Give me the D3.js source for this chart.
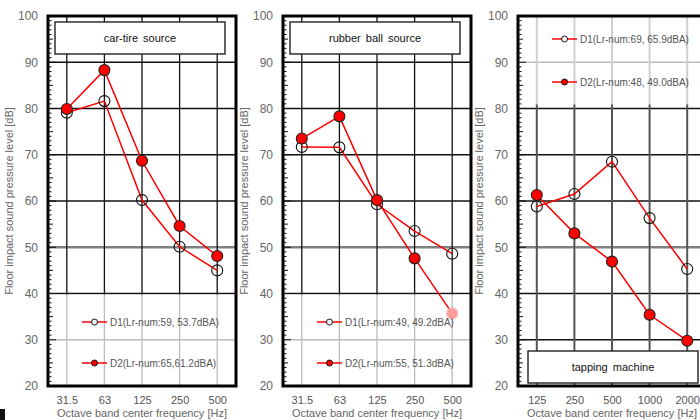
<!DOCTYPE html>
<html>
<head>
<meta charset="utf-8">
<script src="https://cdn.jsdelivr.net/npm/d3@7"></script>
<style>
  body { margin: 0; background: #fff; }
  text { font-family: "Liberation Sans", Arial, sans-serif; }
</style>
</head>
<body>
<div id="chart"></div>
<script>
// frequency bands
var freqLow = ["31.5", "63", "125", "250", "500"];
var freqHigh = ["125", "250", "500", "1000", "2000"];

// y ticks
var yTicks = [20, 30, 40, 50, 60, 70, 80, 90, 100];

// car-tire source
var carD1 = [79.1, 81.6, 60.2, 50.1, 45.0];
var carD2 = [79.9, 88.3, 68.7, 54.6, 48.1];
// rubber ball source
var ballD1 = [71.7, 71.6, 59.3, 53.5, 48.6];
var ballD2 = [73.5, 78.3, 60.2, 47.6, 35.7];
// tapping machine
var tapD1 = [58.8, 61.5, 68.5, 56.3, 45.3];
var tapD2 = [61.3, 53.0, 46.9, 35.4, 29.8];

var titles = ["car-tire source", "rubber ball source", "tapping machine"];
var legendD1 = ["D1(Lr-num:59, 53.7dBA)", "D1(Lr-num:49, 49.2dBA)", "D1(Lr-num:69, 65.9dBA)"];
var legendD2 = ["D2(Lr-num:65,61.2dBA)", "D2(Lr-num:55, 51.3dBA)", "D2(Lr-num:48, 49.0dBA)"];

var svgWidth = 700;
var svgHeight = 420;

var svg = d3.select("#chart")
  .append("svg")
  .attr("width", svgWidth)
  .attr("height", svgHeight);

var plotTop = 16, plotBottom = 386, plotW = 188;

var panels = [
  { left: 48, freqs: freqLow, d1: carD1, d2: carD2, legendTop: false, titleTop: true, boxDx: 7, faded: -1, vGrid: "#111", vW: 1.3 },
  { left: 283, freqs: freqLow, d1: ballD1, d2: ballD2, legendTop: false, titleTop: true, boxDx: 7, faded: 4, vGrid: "#111", vW: 1.3 },
  { left: 518, freqs: freqHigh, d1: tapD1, d2: tapD2, legendTop: true, titleTop: false, boxDx: 10, faded: -1, vGrid: "#555", vW: 2 }
];

var yScale = d3.scaleLinear().domain([20, 100]).range([plotBottom, plotTop]);

panels.forEach(function(p, i) {
  var g = svg.append("g");
  var xScale = d3.scalePoint()
    .domain(p.freqs)
    .range([p.left, p.left + plotW])
    .padding(0.5);

  // gridlines
  g.selectAll("line.hgrid")
    .data(yTicks.slice(1, -1))
    .enter()
    .append("line")
    .attr("x1", p.left)
    .attr("x2", p.left + plotW)
    .attr("y1", d => yScale(d))
    .attr("y2", d => yScale(d))
    .attr("stroke", d => d === 50 ? "#808080" : "#111")
    .attr("stroke-width", d => d === 50 ? 2.5 : 1.3);

  g.selectAll("line.vgrid")
    .data(p.freqs)
    .enter()
    .append("line")
    .attr("x1", d => xScale(d))
    .attr("x2", d => xScale(d))
    .attr("y1", plotTop)
    .attr("y2", plotBottom)
    .attr("stroke", p.vGrid)
    .attr("stroke-width", p.vW);

  // legend area washes out the grid
  var legY1 = p.legendTop ? plotTop : yScale(40) + 1;
  var legY2 = p.legendTop ? yScale(80) - 4 : plotBottom;
  g.append("rect")
    .attr("x", p.left + 1)
    .attr("y", legY1)
    .attr("width", plotW - 2)
    .attr("height", legY2 - legY1)
    .attr("fill", "#fff")
    .attr("opacity", 0.72);

  // title box
  var boxY = p.titleTop ? 22 : 351;
  g.append("rect")
    .attr("x", p.left + p.boxDx)
    .attr("y", boxY)
    .attr("width", 170)
    .attr("height", 32)
    .attr("fill", "#fff")
    .attr("stroke", "#222")
    .attr("stroke-width", 1.4);
  g.append("text")
    .attr("x", p.left + p.boxDx + 85)
    .attr("y", boxY + 20)
    .attr("text-anchor", "middle")
    .style("font-size", "11px")
    .style("word-spacing", "2px")
    .attr("fill", "#111")
    .text(titles[i]);

  // lines
  var line = d3.line()
    .x((d, j) => xScale(p.freqs[j]))
    .y(d => yScale(d));

  [p.d1, p.d2].forEach(function(series) {
    g.append("path")
      .datum(series)
      .attr("d", line)
      .attr("fill", "none")
      .attr("stroke", "#ff0000")
      .attr("stroke-width", 1.5);
  });

  // markers
  g.selectAll("circle.d1")
    .data(p.d1)
    .enter()
    .append("circle")
    .attr("cx", (d, j) => xScale(p.freqs[j]))
    .attr("cy", d => yScale(d))
    .attr("r", 5.5)
    .attr("fill", "none")
    .attr("stroke", "#111")
    .attr("stroke-width", 1.1);

  g.selectAll("circle.d2")
    .data(p.d2)
    .enter()
    .append("circle")
    .attr("cx", (d, j) => xScale(p.freqs[j]))
    .attr("cy", d => yScale(d))
    .attr("r", 5.5)
    .attr("fill", (d, j) => j === p.faded ? "#ff9c9c" : "#ff0000")
    .attr("stroke", (d, j) => j === p.faded ? "#ffb0b0" : "#222")
    .attr("stroke-width", 1.1);

  // frame
  g.append("rect")
    .attr("x", p.left)
    .attr("y", plotTop)
    .attr("width", plotW)
    .attr("height", plotBottom - plotTop)
    .attr("fill", "none")
    .attr("stroke", "#000")
    .attr("stroke-width", 3);

  // minor ticks inside the left frame
  g.selectAll("line.minor")
    .data(d3.range(21, 100))
    .enter()
    .append("line")
    .attr("x1", p.left)
    .attr("x2", d => p.left + (d % 10 === 0 ? 8 : (d % 5 === 0 ? 5 : 3.5)))
    .attr("y1", d => yScale(d))
    .attr("y2", d => yScale(d))
    .attr("stroke", "#111")
    .attr("stroke-width", 1);

  // y axis
  var leftAxis = d3.axisLeft(yScale).tickValues(yTicks).tickSize(0).tickPadding(10);
  var yAx = g.append("g")
    .attr("transform", `translate(${p.left}, 0)`)
    .call(leftAxis);
  yAx.select(".domain").remove();
  yAx.selectAll("text")
    .style("font-size", "12px")
    .style("font-family", "Liberation Sans, Arial, sans-serif")
    .attr("fill", "#666");

  // x axis
  var bottomAxis = d3.axisBottom(xScale).tickSize(0).tickPadding(10);
  var xAx = g.append("g")
    .attr("transform", `translate(0, ${plotBottom})`)
    .call(bottomAxis);
  xAx.select(".domain").remove();
  xAx.selectAll("text")
    .style("font-size", "11px")
    .style("font-family", "Liberation Sans, Arial, sans-serif")
    .attr("fill", "#555");

  // axis titles
  g.append("text")
    .attr("x", p.left + plotW / 2)
    .attr("y", 417)
    .attr("text-anchor", "middle")
    .style("font-size", "11px")
    .attr("fill", "#666")
    .text("Octave band center frequency [Hz]");

  g.append("text")
    .attr("transform", `translate(${p.left - 35}, ${(plotTop + plotBottom) / 2}) rotate(-90)`)
    .attr("text-anchor", "middle")
    .style("font-size", "11px")
    .attr("fill", "#666")
    .text("Floor impact sound pressure level [dB]");

  // legend
  var legX = p.left + 34;
  var legRows = p.legendTop ? [39, 82] : [322, 363];
  [0, 1].forEach(function(k) {
    var y = legRows[k];
    g.append("line")
      .attr("x1", legX)
      .attr("x2", legX + 25)
      .attr("y1", y)
      .attr("y2", y)
      .attr("stroke", "#ff0000")
      .attr("stroke-width", 1.5);
    g.append("circle")
      .attr("cx", legX + 12.5)
      .attr("cy", y)
      .attr("r", 3)
      .attr("fill", k === 0 ? "#fff" : "#ff0000")
      .attr("stroke", "#111")
      .attr("stroke-width", 1);
    g.append("text")
      .attr("x", legX + 28)
      .attr("y", y + 3.5)
      .style("font-size", "10px")
      .attr("fill", "#555")
      .text(k === 0 ? legendD1[i] : legendD2[i]);
  });
});

// small dark mark in the bottom left corner
svg.append("rect")
  .attr("x", 0)
  .attr("y", 409)
  .attr("width", 5)
  .attr("height", 11)
  .attr("fill", "#111");
</script>
</body>
</html>
